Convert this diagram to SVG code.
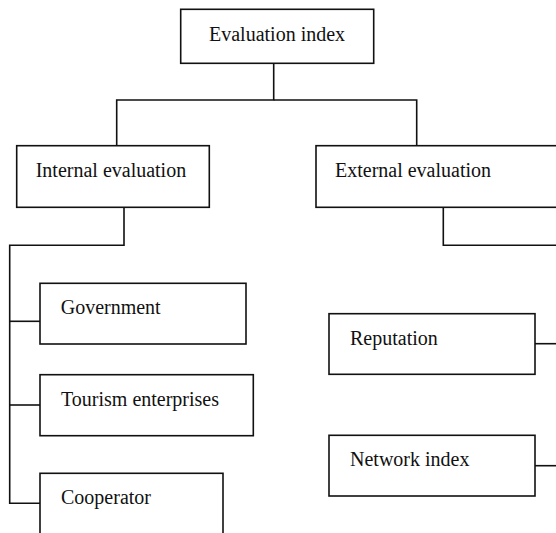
<svg xmlns="http://www.w3.org/2000/svg" width="556" height="533" viewBox="0 0 556 533">
<style>
.box{fill:#fff;stroke:#111;stroke-width:1.6}
.t{font-family:"Liberation Serif","Times New Roman",serif;font-size:20px;fill:#111}
.c{fill:none;stroke:#111;stroke-width:1.6}
</style>
<rect width="556" height="533" fill="#fff"/>
<g id="connectors">
<polyline class="c" points="273.7,63.3 273.7,100 116.7,100 116.7,145.7"/>
<polyline class="c" points="273.7,100 416.7,100 416.7,145.7"/>
<polyline class="c" points="124,207.3 124,245.3 9.7,245.3 9.7,503.3 40,503.3"/>
<line class="c" x1="9.7" y1="321.3" x2="40" y2="321.3"/>
<line class="c" x1="9.7" y1="405" x2="40" y2="405"/>
<polyline class="c" points="443.3,207.3 443.3,245.3 557,245.3"/>
<line class="c" x1="535" y1="343.7" x2="557" y2="343.7"/>
<line class="c" x1="535" y1="465.7" x2="557" y2="465.7"/>
</g>
<g id="evaluation-index">
<rect class="box" x="180.7" y="9.3" width="193" height="54"/>
<text class="t" x="209" y="41">Evaluation index</text>
</g>
<g id="internal-evaluation">
<rect class="box" x="16.7" y="145.7" width="192.6" height="61.6"/>
<text class="t" x="35.7" y="177">Internal evaluation</text>
</g>
<g id="external-evaluation">
<rect class="box" x="316" y="145.7" width="250" height="61.6"/>
<text class="t" x="335" y="177">External evaluation</text>
</g>
<g id="government">
<rect class="box" x="40" y="283.3" width="206" height="60.7"/>
<text class="t" x="60.7" y="314">Government</text>
</g>
<g id="tourism-enterprises">
<rect class="box" x="40" y="374.7" width="213.3" height="61"/>
<text class="t" x="61" y="405.5">Tourism enterprises</text>
</g>
<g id="cooperator">
<rect class="box" x="40" y="473.3" width="183" height="80"/>
<text class="t" x="61" y="504">Cooperator</text>
</g>
<g id="reputation">
<rect class="box" x="329" y="313.7" width="206" height="60.6"/>
<text class="t" x="350" y="345">Reputation</text>
</g>
<g id="network-index">
<rect class="box" x="329" y="435.3" width="206" height="60.7"/>
<text class="t" x="350" y="466">Network index</text>
</g>
</svg>
